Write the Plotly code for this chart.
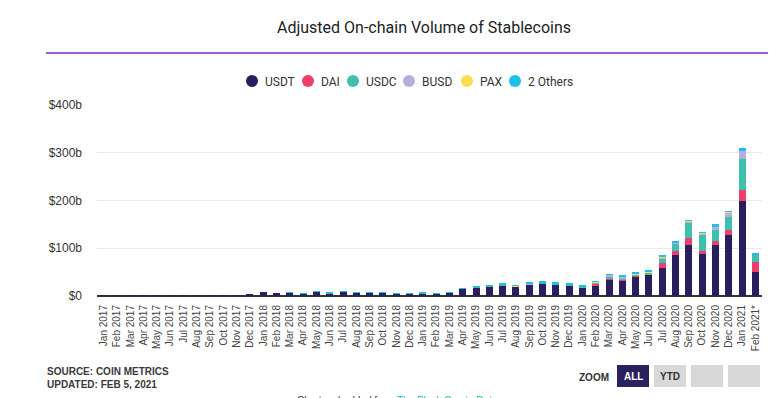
import plotly.graph_objects as go

months = ["Jan 2017","Feb 2017","Mar 2017","Apr 2017","May 2017","Jun 2017","Jul 2017","Aug 2017",
          "Sep 2017","Oct 2017","Nov 2017","Dec 2017","Jan 2018","Feb 2018","Mar 2018","Apr 2018",
          "May 2018","Jun 2018","Jul 2018","Aug 2018","Sep 2018","Oct 2018","Nov 2018","Dec 2018",
          "Jan 2019","Feb 2019","Mar 2019","Apr 2019","May 2019","Jun 2019","Jul 2019","Aug 2019",
          "Sep 2019","Oct 2019","Nov 2019","Dec 2019","Jan 2020","Feb 2020","Mar 2020","Apr 2020",
          "May 2020","Jun 2020","Jul 2020","Aug 2020","Sep 2020","Oct 2020","Nov 2020","Dec 2020",
          "Jan 2021","Feb 2021*"]

usdt = [0.5,0.3,0.3,0.3,0.4,0.4,0.5,0.6,1.5,0.8,1.6,4.8,8.8,5.4,6.8,5.4,8.7,6.1,9.6,7.8,
        7.8,7.3,5.4,5.0,6.0,4.3,6.6,15.2,18.5,20.5,22.5,19.5,24.5,26.5,24.5,22.5,18.5,22.5,
        35,33,41.5,44,58,85,106,89,106,127,199,51]
dai = [0]*34 + [0.2,0.3,0.3,4,1.5,1,1,2,11,9,15,6,9,10.5,24,21]
usdc = [0]*21 + [0.2,0.2,0.3,0.5,0.4,0.4,0.4,0.5,0.5,1.0,0.6,0.6,0.8,0.8,0.6,0.8,1.5,5,3,
                 2.5,3,10,15,31,32,22.5,28,64,14]
busd = [0]*32 + [0.1,0.2,0.3,0.2,0.3,0.5,2.5,3,1,1,2,2,4.5,4.5,7.5,8.5,17,1]
pax = [0]*20 + [0.1,0.2,0.2,0.6,0.3,0.3,0.4,0.5,0.5,1.5,1.2,1.2,1.5,1.0,1.0,1.5,0.5,1.5,
                1.5,0.5,2,1,2,0.5,1.5,1.5,0.5,2,1,0.3]
others = [0]*14 + [0.1,0.1,0.2,0.2,0.3,0.3,0.3,0.3,0.2,0.2,0.8,0.6,0.6,0.6,1.2,0.5,0.5,0.6,
                   0.6,1.2,1.0,0.5,1.5,0.3,0.5,1.5,0.5,2.5,1,4.5,1,1,4.5,1.5,4,2]

series_names = ["USDT", "DAI", "USDC", "BUSD", "PAX", "2 Others"]
series_values = [usdt, dai, usdc, busd, pax, others]
colors = ["#2b1e5e", "#ec3f6b", "#3fbfad", "#b7aee0", "#fddc4f", "#1cbfe8"]

y_ticks = [0, 100, 200, 300, 400]
y_tick_labels = ["$0", "$100b", "$200b", "$300b", "$400b"]

W, H = 773, 398
L, R, T, B = 97, 762, 105, 296

def xp(px):
    return (px - L) / (R - L)

def yp(py):
    return (B - py) / (B - T)

fig = go.Figure()
for name, vals, col in zip(series_names, series_values, colors):
    fig.add_trace(go.Bar(x=months, y=vals, name=name, marker_color=col,
                         marker_line_width=0, showlegend=False))

shapes = []
annotations = []

# title and purple rule
annotations.append(dict(text="Adjusted On-chain Volume of Stablecoins", x=xp(424), y=yp(27.5),
                        xref="paper", yref="paper", showarrow=False, xanchor="center", yanchor="middle",
                        font=dict(family="Roboto", size=16, color="#222222")))
shapes.append(dict(type="line", xref="paper", yref="paper", x0=xp(46), x1=xp(768),
                   y0=yp(53), y1=yp(53), line=dict(color="#7b2cbf", width=1.5)))

# legend
legend_dot_x = [252, 308, 353, 409, 467, 515]
for name, col, cx in zip(series_names, colors, legend_dot_x):
    r = 6
    shapes.append(dict(type="circle", xref="paper", yref="paper", x0=xp(cx - r), x1=xp(cx + r),
                       y0=yp(81 + r), y1=yp(81 - r), fillcolor=col, line=dict(width=0)))
    annotations.append(dict(text=name, x=xp(cx + 11), y=yp(81.5), xref="paper", yref="paper",
                            showarrow=False, xanchor="left", yanchor="middle",
                            font=dict(family="Roboto", size=12, color="#333333")))

# source text
annotations.append(dict(text="<b>SOURCE: COIN METRICS</b><br><b>UPDATED: FEB 5, 2021</b>", x=xp(45), y=yp(378),
                        xref="paper", yref="paper", showarrow=False, xanchor="left", yanchor="middle",
                        align="left", font=dict(family="Liberation Sans", size=10, color="#3a3a3a")))
# zoom buttons
annotations.append(dict(text="<b>ZOOM</b>", x=xp(611), y=yp(377), xref="paper", yref="paper",
                        showarrow=False, xanchor="right", yanchor="middle",
                        font=dict(family="Liberation Sans", size=10, color="#333333")))
btns = [(617, 649, "#2d2060", "ALL", "#ffffff"), (654, 686, "#d8d8d8", "YTD", "#333333"),
        (691, 723, "#d8d8d8", "", "#333333"), (728, 760, "#d8d8d8", "", "#333333")]
for x0, x1, fc, txt, tc in btns:
    shapes.append(dict(type="rect", xref="paper", yref="paper", x0=xp(x0), x1=xp(x1),
                       y0=yp(387), y1=yp(365), fillcolor=fc, line=dict(width=0)))
    if txt:
        annotations.append(dict(text="<b>" + txt + "</b>", x=xp((x0 + x1) / 2), y=yp(376.5),
                                xref="paper", yref="paper", showarrow=False,
                                xanchor="center", yanchor="middle",
                                font=dict(family="Liberation Sans", size=10, color=tc)))
annotations.append(dict(text='Chart embedded from <span style="color:#2bb0b0">The Block Crypto Data</span>',
                        x=xp(397), y=yp(393), xref="paper", yref="paper", showarrow=False,
                        xanchor="center", yanchor="top",
                        font=dict(family="Liberation Sans", size=10, color="#333333")))

fig.update_layout(
    width=W, height=H,
    margin=dict(l=L, r=W - R, t=T, b=H - B, pad=0),
    paper_bgcolor="white", plot_bgcolor="white",
    barmode="stack", bargap=0.48,
    showlegend=False,
    shapes=shapes, annotations=annotations,
    xaxis=dict(type="category", tickangle=-90, showgrid=False, showline=False, zeroline=False,
               ticks="", ticklabelstandoff=6,
               tickfont=dict(family="Liberation Sans", size=10, color="#444444")),
    yaxis=dict(range=[0, 400], tickvals=y_ticks, ticktext=y_tick_labels, showgrid=True,
               gridcolor="#e8e8e8", gridwidth=1, zeroline=True, zerolinecolor="#333333",
               zerolinewidth=1.5, showline=False, ticks="", ticklabelstandoff=14,
               tickfont=dict(family="Liberation Sans", size=12, color="#333333")),
)

fig.write_html("out.html", config={"displayModeBar": False})

# remove the default page margin so the figure sits at the window's top-left corner
with open("out.html", "r", encoding="utf-8") as f:
    html = f.read()
html = html.replace("<head>", "<head><style>html,body{margin:0;padding:0;overflow:hidden;}</style>", 1)
with open("out.html", "w", encoding="utf-8") as f:
    f.write(html)
